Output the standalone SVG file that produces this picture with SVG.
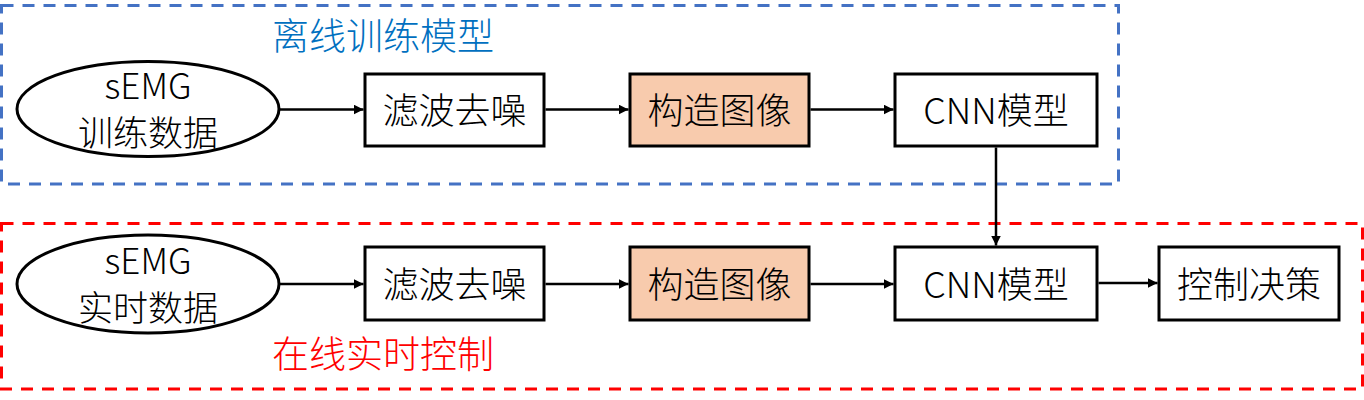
<svg xmlns="http://www.w3.org/2000/svg" width="1364" height="400" viewBox="0 0 1364 400">
<style>
text{font-family:"Microsoft YaHei","Noto Sans CJK SC","Noto Sans",sans-serif;font-size:36px;font-weight:300;text-anchor:middle;fill:#000}
.box{fill:#fff;stroke:#000;stroke-width:3}
.hl{fill:#F8CBAD}
.ell{fill:#fff;stroke:#000;stroke-width:3}
.grp{fill:none;stroke-width:3;stroke-dasharray:12 9}
.edge{stroke:#000;stroke-width:2.5;fill:none;marker-end:url(#arr)}
.title{font-size:37px}
.lbl{font-size:35px}
</style>
<defs>
<marker id="arr" markerWidth="10" markerHeight="10" refX="10" refY="5" orient="auto" markerUnits="userSpaceOnUse">
<path d="M0,0 L10,5 L0,10 Z" fill="#000"/>
</marker>
</defs>
<g id="group-offline">
<rect class="grp" x="1.5" y="5.5" width="1117" height="178.5" stroke="#4472C4"/>
<text class="title" x="383" y="50" style="fill:#0070C0">离线训练模型</text>
</g>
<g id="group-online">
<rect class="grp" x="1.5" y="223.5" width="1361" height="165.5" stroke="#FF0000"/>
<text class="title" x="383" y="368" style="fill:#FF0000">在线实时控制</text>
</g>
<g id="connectors">
<line class="edge" x1="280" y1="109.5" x2="363.5" y2="109.5"/>
<line class="edge" x1="545.5" y1="109.5" x2="628.5" y2="109.5"/>
<line class="edge" x1="810.5" y1="109.5" x2="893.5" y2="109.5"/>
<line class="edge" x1="996" y1="147.5" x2="996" y2="245.5"/>
<line class="edge" x1="280" y1="284" x2="363.5" y2="284"/>
<line class="edge" x1="545.5" y1="284" x2="628.5" y2="284"/>
<line class="edge" x1="810.5" y1="284" x2="893.5" y2="284"/>
<line class="edge" x1="1098.5" y1="283" x2="1157.5" y2="283"/>
</g>
<g id="n-semg-train">
<ellipse class="ell" cx="148" cy="109" rx="131" ry="47.5"/>
<text class="lbl" x="148" y="99">sEMG</text>
<text class="lbl" x="148" y="146">训练数据</text>
</g>
<g id="n-filter-1">
<rect class="box" x="365" y="74" width="179" height="72"/>
<text x="454.5" y="124">滤波去噪</text>
</g>
<g id="n-image-1">
<rect class="box hl" x="630" y="74" width="179" height="72"/>
<text x="719.5" y="124">构造图像</text>
</g>
<g id="n-cnn-1">
<rect class="box" x="895" y="74" width="202" height="72"/>
<text x="996" y="124">CNN模型</text>
</g>
<g id="n-semg-rt">
<ellipse class="ell" cx="148" cy="284" rx="131" ry="49"/>
<text class="lbl" x="148" y="274">sEMG</text>
<text class="lbl" x="148" y="321">实时数据</text>
</g>
<g id="n-filter-2">
<rect class="box" x="365" y="247" width="179" height="73"/>
<text x="454.5" y="298">滤波去噪</text>
</g>
<g id="n-image-2">
<rect class="box hl" x="630" y="247" width="179" height="73"/>
<text x="719.5" y="298">构造图像</text>
</g>
<g id="n-cnn-2">
<rect class="box" x="895" y="247" width="202" height="73"/>
<text x="996" y="298">CNN模型</text>
</g>
<g id="n-control">
<rect class="box" x="1159" y="247" width="180" height="73"/>
<text x="1249" y="298">控制决策</text>
</g>
</svg>
